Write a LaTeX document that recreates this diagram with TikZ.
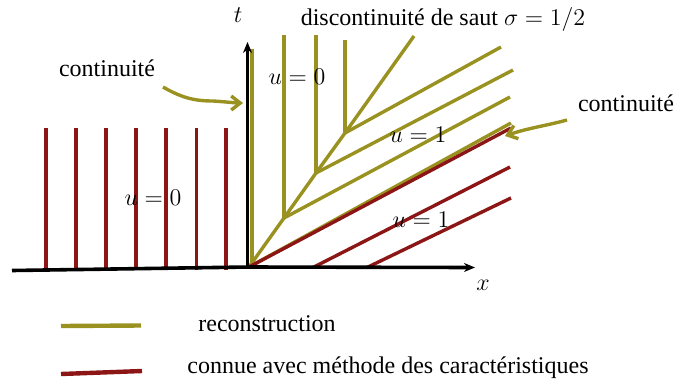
\documentclass[tikz,border=0pt]{standalone}
\usepackage{fontspec}
\setmainfont{Liberation Serif}
\usetikzlibrary{arrows.meta, positioning, calc}
\definecolor{recolive}{RGB}{153,146,32}
\definecolor{charred}{RGB}{140,22,22}
\tikzset{
  axis/.style={-{Stealth[length=5.5pt, width=4.5pt]}, line width=1.8pt, black},
  recline/.style={recolive, line width=1.7pt},
  charline/.style={charred, line width=1.7pt},
  callout/.style={recolive, line width=1.7pt, -{Straight Barb[length=4.5pt, width=7pt]}},
  lbl/.style={inner sep=0pt, font=\fontsize{12}{14}\selectfont},
}

\begin{document}
\begin{tikzpicture}[x=0.5pt, y=-0.5pt]

\useasboundingbox (0,0) rectangle (677,382);

% ── points du choc ────────────────────────────────────────────────
\coordinate (O)  at (249,267);
\coordinate (J1) at (284,218);
\coordinate (J2) at (316,173);
\coordinate (J3) at (345,133);
\coordinate (S)  at (414,36);

% ── caractéristiques connues à gauche (u=0) ───────────────────────
\foreach \xx in {46,76,106,136,166,196.5,226}{
  \draw[charline] (\xx,128) -- (\xx,269.5);
}
\node[lbl] (uzeroleft) at (153,198) {$u=0$};

% ── reconstruction ────────────────────────────────────────────────
% choc
\draw[recline] (O) -- (J1) -- (J2) -- (J3) -- (S);
% verticales u=0
\draw[recline] (252,265) -- (252,49);
\draw[recline] (J1) -- (284,35);
\draw[recline] (J2) -- (316,35);
\draw[recline] (J3) -- (345,40);
% droites u=1
\draw[recline] (O)  -- (511,123);
\draw[recline] (J1) -- (510,97);
\draw[recline] (J2) -- (513,70);
\draw[recline] (J3) -- (501,47);

% ── caractéristiques connues à droite (u=1) ───────────────────────
\draw[charline] (O) -- (511,128);
\draw[charline] (313,267.5) -- (510,167);
\draw[charline] (367,267.5) -- (511,198);

% ── axes ──────────────────────────────────────────────────────────
\draw[axis] (12,270.5) -- (O) -- (475,267.5);
\draw[axis] (247.5,268) -- (247.5,42);
\node[lbl] (tlab) at (238,15) {$t$};
\node[lbl] (xlab) at (483,285) {$x$};

% ── étiquettes ────────────────────────────────────────────────────
\node[lbl] (uzerotop) at (297,77)  {$u=0$};
\node[lbl] (uonetop)  at (418,135) {$u=1$};
\node[lbl] (uonebot)  at (421,220) {$u=1$};
\node[lbl] (titre) at (443,19) {discontinuité de saut $\sigma=1/2$};

% continuité, avec flèches à main levée
\node[lbl] (contleft)  at (107,68)  {continuité};
\node[lbl] (contright) at (626,103) {continuité};
\draw[callout] (163,87) .. controls (182,98) and (195,101) .. (213,101)
  .. controls (228,102) and (236,103) .. (243,103);
\draw[callout] (567,120) .. controls (545,126) and (528,128) .. (505,136);

% ── légende ───────────────────────────────────────────────────────
\draw[recolive, line width=2.2pt] (61,326) -- (141,325.5);
\draw[charred, line width=2.2pt] (61,374) -- (142,371);
\node[lbl, anchor=base west] (legrec)  at (198,331) {reconstruction};
\node[lbl, anchor=base west] (legchar) at (187,373) {connue avec méthode des caractéristiques};

\end{tikzpicture}
\end{document}
